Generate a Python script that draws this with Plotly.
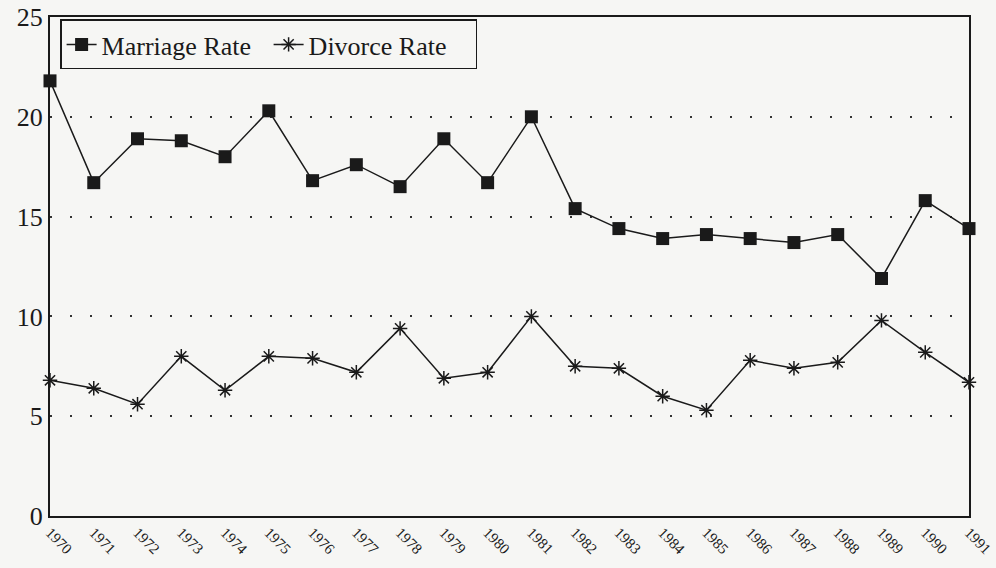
import plotly.graph_objects as go

years = list(range(1970, 1992))
year_labels = [str(y) for y in years]
marriage_rate = [21.8, 16.7, 18.9, 18.8, 18.0, 20.3, 16.8, 17.6, 16.5, 18.9, 16.7,
                 20.0, 15.4, 14.4, 13.9, 14.1, 13.9, 13.7, 14.1, 11.9, 15.8, 14.4]
divorce_rate = [6.8, 6.4, 5.6, 8.0, 6.3, 8.0, 7.9, 7.2, 9.4, 6.9, 7.2,
                10.0, 7.5, 7.4, 6.0, 5.3, 7.8, 7.4, 7.7, 9.8, 8.2, 6.7]
y_ticks = [0, 5, 10, 15, 20, 25]

font_family = "Liberation Serif, Times New Roman, serif"
ink = "#1a1a1a"
bg = "#f6f6f4"

fig = go.Figure()
fig.add_trace(go.Scatter(
    x=years, y=marriage_rate, name="Marriage Rate", mode="lines+markers",
    line=dict(color=ink, width=1.5),
    marker=dict(symbol="square", size=13, color=ink),
    cliponaxis=False,
))
fig.add_trace(go.Scatter(
    x=years, y=divorce_rate, name="Divorce Rate", mode="lines+markers",
    line=dict(color=ink, width=1.5),
    marker=dict(symbol="asterisk-open", size=12, color=ink,
                line=dict(color=ink, width=1.5)),
    cliponaxis=False,
))

fig.update_layout(
    width=996, height=568,
    margin=dict(l=50, r=27, t=17, b=52),
    paper_bgcolor=bg, plot_bgcolor=bg,
    font=dict(family=font_family, color=ink),
    showlegend=True,
    legend=dict(
        x=0.011, y=0.995, xanchor="left", yanchor="top",
        orientation="h", bgcolor=bg,
        bordercolor=ink, borderwidth=1.5,
        font=dict(size=26, family=font_family),
        itemwidth=30, tracegroupgap=0, entrywidth=162,
    ),
    xaxis=dict(
        range=[1970, 1991], tickvals=years, ticktext=year_labels,
        tickangle=45, tickfont=dict(size=15, family=font_family),
        ticklabeloverflow="allow",
        showgrid=False, zeroline=False, automargin=False,
        showline=True, linecolor=ink, linewidth=2, mirror=True,
        ticks="", ticklen=0,
    ),
    yaxis=dict(
        range=[0, 25], tickvals=y_ticks,
        tickfont=dict(size=26, family=font_family),
        ticklabeloverflow="allow",
        showgrid=True, gridcolor="#333333", gridwidth=1.5, griddash="2px,18px",
        zeroline=False, automargin=False,
        showline=True, linecolor=ink, linewidth=2, mirror=True,
        ticks="", ticklen=0,
    ),
)

fig.write_html(
    "out.html",
    config={"displayModeBar": False},
    post_script="document.body.style.margin='0';document.body.style.overflow='hidden';",
)
